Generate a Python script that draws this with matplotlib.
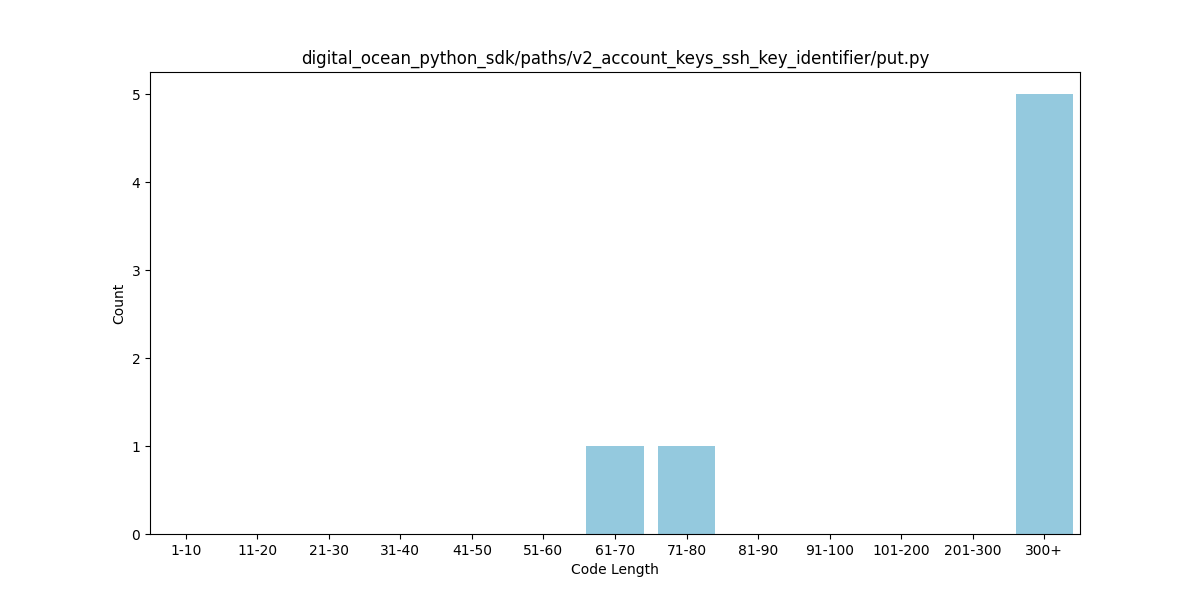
import matplotlib
matplotlib.use("Agg")
import matplotlib.pyplot as plt
import seaborn as sns

title = "digital_ocean_python_sdk/paths/v2_account_keys_ssh_key_identifier/put.py"
length_bins = ["1-10", "11-20", "21-30", "31-40", "41-50", "51-60", "61-70",
               "71-80", "81-90", "91-100", "101-200", "201-300", "300+"]
counts = [0, 0, 0, 0, 0, 0, 1, 1, 0, 0, 0, 0, 5]

fig, ax = plt.subplots(figsize=(12, 6), dpi=100)
sns.barplot(x=length_bins, y=counts, color="skyblue", ax=ax)
ax.set_title(title)
ax.set_xlabel("Code Length")
ax.set_ylabel("Count")
fig.savefig("out.png")
